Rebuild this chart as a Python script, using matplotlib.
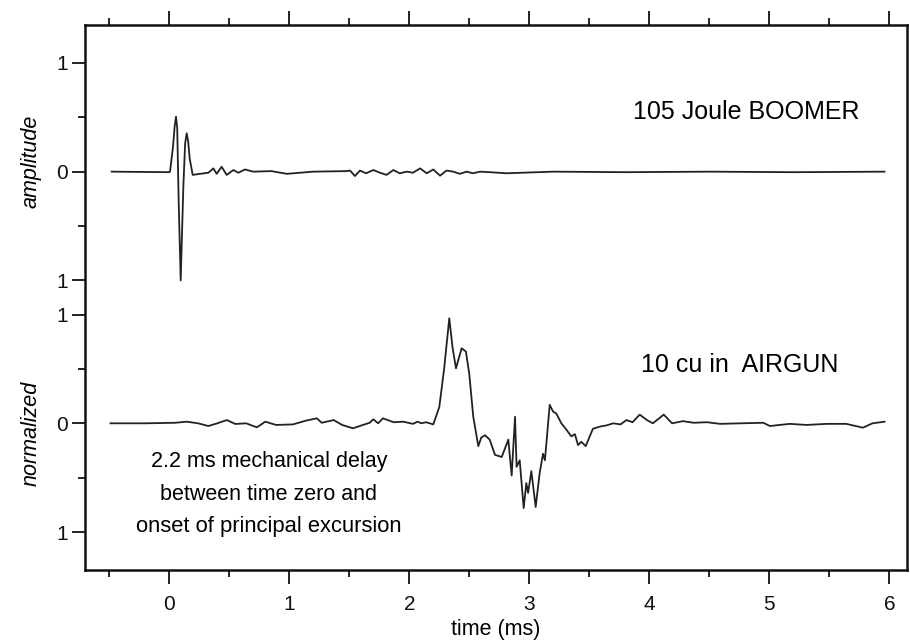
import matplotlib
matplotlib.use("Agg")
import matplotlib.pyplot as plt
from matplotlib.ticker import FixedLocator
import matplotlib.transforms as mtransforms

plt.rcParams['font.family'] = ['Liberation Sans', 'DejaVu Sans']

# 105 Joule boomer, normalized amplitude vs time (ms)
boomer_t = [-0.48, 0.0, 0.006, 0.03, 0.045, 0.056, 0.066, 0.078, 0.095, 0.117,
            0.132, 0.145, 0.157, 0.17, 0.195, 0.256, 0.325, 0.367, 0.395, 0.436,
            0.478, 0.534, 0.575, 0.631, 0.70, 0.85, 0.98, 1.20, 1.48, 1.506,
            1.547, 1.589, 1.64, 1.70, 1.756, 1.81, 1.867, 1.92, 1.98, 2.03,
            2.09, 2.145, 2.20, 2.256, 2.31, 2.367, 2.42, 2.478, 2.53, 2.59,
            2.67, 2.81, 3.2, 3.8, 4.5, 5.2, 5.96]
boomer_v = [0.0, -0.005, 0.0, 0.22, 0.42, 0.506, 0.40, -0.27, -1.0, -0.14,
            0.26, 0.353, 0.28, 0.12, -0.03, -0.02, -0.01, 0.03, -0.02, 0.045,
            -0.03, 0.015, -0.01, 0.02, 0.0, 0.005, -0.02, 0.0, 0.005, 0.01,
            -0.04, 0.01, -0.015, 0.015, -0.01, -0.03, 0.015, -0.015, 0.0, -0.01,
            0.03, -0.015, 0.02, -0.037, 0.01, 0.0, -0.02, 0.0, -0.015, 0.0,
            -0.005, -0.015, 0.0, -0.005, 0.0, -0.005, 0.0]

# 10 cu in airgun
airgun_t = [-0.49, -0.2, 0.05, 0.145, 0.24, 0.325, 0.40, 0.48, 0.55, 0.64,
            0.73, 0.80, 0.89, 1.03, 1.14, 1.23, 1.27, 1.37, 1.44, 1.53,
            1.60, 1.67, 1.70, 1.74, 1.78, 1.87, 1.95, 2.03, 2.07, 2.10,
            2.14, 2.20, 2.25, 2.29, 2.333, 2.36, 2.389, 2.436, 2.472, 2.50,
            2.533, 2.575, 2.60, 2.631, 2.67, 2.714, 2.77, 2.825, 2.853, 2.881,
            2.894, 2.92, 2.953, 2.975, 2.99, 3.017, 3.053, 3.086, 3.114, 3.13,
            3.17, 3.197, 3.225, 3.267, 3.31, 3.35, 3.38, 3.406, 3.433, 3.47,
            3.53, 3.59, 3.64, 3.70, 3.76, 3.81, 3.86, 3.92, 3.98, 4.03,
            4.12, 4.19, 4.28, 4.37, 4.48, 4.59, 4.76, 4.95, 5.005, 5.17,
            5.31, 5.48, 5.64, 5.78, 5.86, 5.96]
airgun_v = [0.0, 0.0, 0.005, 0.015, 0.0, -0.025, 0.0, 0.03, -0.006, 0.0,
            -0.037, 0.015, -0.015, -0.01, 0.025, 0.046, 0.005, 0.03, -0.015, -0.046,
            -0.02, 0.005, 0.037, 0.0, 0.046, 0.01, 0.015, -0.005, 0.015, 0.0,
            0.01, -0.01, 0.15, 0.5, 0.966, 0.7, 0.506, 0.69, 0.66, 0.45,
            0.06, -0.21, -0.13, -0.11, -0.15, -0.29, -0.31, -0.15, -0.48, 0.06,
            -0.40, -0.34, -0.78, -0.55, -0.64, -0.44, -0.77, -0.46, -0.28, -0.34,
            0.17, 0.11, 0.09, 0.0, -0.06, -0.12, -0.10, -0.20, -0.17, -0.21,
            -0.05, -0.03, -0.02, 0.0, -0.01, 0.03, 0.01, 0.08, 0.03, 0.0,
            0.08, 0.0, 0.02, 0.005, 0.01, -0.005, 0.0, 0.005, -0.025, -0.005,
            -0.015, -0.005, -0.005, -0.04, 0.0, 0.015]

x_ticks = [0, 1, 2, 3, 4, 5, 6]
y_tick_labels = ["1", "0", "1", "1", "0", "1"]

offset = 2.315  # vertical shift of the boomer trace

fig = plt.figure(figsize=(9.1, 6.41), dpi=100)
ax = fig.add_axes([0.0934, 0.1115, 0.903, 0.8495])

ax.plot(boomer_t, [v + offset for v in boomer_v], color='#222222', lw=1.3)
ax.plot(airgun_t, airgun_v, color='#222222', lw=1.3)

ax.set_xlim(-0.7025, 6.145)
ax.set_ylim(-1.345, 3.664)

ax.set_xticks(x_ticks)
ax.xaxis.set_minor_locator(FixedLocator([-0.5, 0.5, 1.5, 2.5, 3.5, 4.5, 5.5]))
ax.set_yticks([offset + 1, offset, offset - 1, 1, 0, -1])
ax.set_yticklabels(y_tick_labels)
ax.yaxis.set_minor_locator(FixedLocator([offset + 0.5, offset - 0.5, 0.5, -0.5]))

ax.tick_params(axis='both', which='both', direction='out', width=1.3, colors='#111111')
ax.tick_params(axis='x', which='major', length=10, pad=8, labelsize=15, top=True)
ax.tick_params(axis='x', which='minor', length=5, top=True)
ax.tick_params(axis='y', which='major', length=9.4, pad=3, labelsize=15)
ax.tick_params(axis='y', which='minor', length=5)
for s in ax.spines.values():
    s.set_linewidth(1.8)
    s.set_color('#111111')

ax.set_xlabel("time (ms)", fontsize=15.5, labelpad=4)

trans = mtransforms.blended_transform_factory(ax.transAxes, ax.transData)
ax.text(-0.0657, 2.413, "amplitude", transform=trans, rotation=90,
        ha='center', va='center', fontsize=15.5, style='italic')
ax.text(-0.0657, -0.09, "normalized", transform=trans, rotation=90,
        ha='center', va='center', fontsize=15.5, style='italic')

ax.text(3.867, 2.797, "105 Joule BOOMER", fontsize=18, ha='left', va='baseline')
ax.text(3.93, 0.475, "10 cu in  AIRGUN", fontsize=18, ha='left', va='baseline')

ax.text(0.83, -0.40, "2.2 ms mechanical delay", fontsize=15.5, ha='center', va='baseline')
ax.text(0.83, -0.706, "between time zero and", fontsize=15.5, ha='center', va='baseline')
ax.text(0.83, -1.003, "onset of principal excursion", fontsize=15.8, ha='center', va='baseline')

fig.savefig("out.png", dpi=100)
